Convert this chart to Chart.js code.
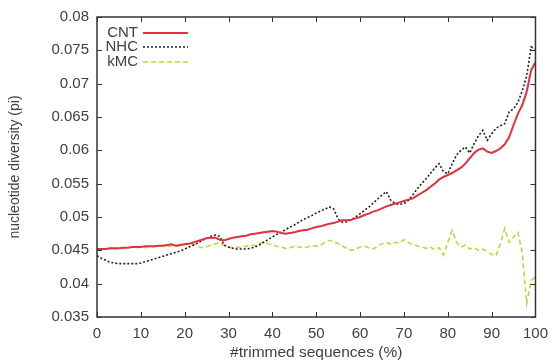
<!DOCTYPE html>
<html>
<head>
<meta charset="utf-8">
<script src="https://cdn.jsdelivr.net/npm/chart.js@4.4.1/dist/chart.umd.min.js"></script>
<style>
  html, body { margin: 0; padding: 0; background: #fff; }
  #wrap { width: 556px; height: 362px; }
</style>
</head>
<body>
<div id="wrap"><canvas id="diversityChart" width="556" height="362"></canvas></div>
<script>
// x samples (% of trimmed sequences), one per percent
const trimmedPct = Array.from({ length: 101 }, (_, i) => i);

// nucleotide diversity, x = 0..100
const cntValues = [
  0.0452, 0.0452, 0.0452, 0.0453, 0.0453, 0.0453, 0.0454, 0.0454, 0.0455, 0.0455,
  0.0455, 0.0456, 0.0456, 0.0456, 0.0457, 0.0457, 0.0458, 0.0459, 0.0457, 0.0458,
  0.0459, 0.0460, 0.0462, 0.0464, 0.0466, 0.0468, 0.0469, 0.0469, 0.0466, 0.0465,
  0.0467, 0.0469, 0.0470, 0.0471, 0.0472, 0.0474, 0.0475, 0.0476, 0.0477, 0.0478,
  0.0479, 0.0478, 0.0476, 0.0475, 0.0476, 0.0477, 0.0479, 0.0480, 0.0481, 0.0483,
  0.0485, 0.0486, 0.0488, 0.0490, 0.0491, 0.0493, 0.0495, 0.0495, 0.0496, 0.0498,
  0.0500, 0.0503, 0.0505, 0.0508, 0.0510, 0.0513, 0.0516, 0.0518, 0.0520, 0.0522,
  0.0524, 0.0526, 0.0528, 0.0532, 0.0536, 0.0540, 0.0545, 0.0550, 0.0556, 0.0560,
  0.0563, 0.0566, 0.0570, 0.0574, 0.0580, 0.0588, 0.0596, 0.0601, 0.0603, 0.0598,
  0.0596, 0.0599, 0.0603, 0.0609, 0.0620, 0.0638, 0.0655, 0.0668, 0.0688, 0.0720,
  0.0732
];
const nhcValues = [
  0.0442, 0.0438, 0.0435, 0.0432, 0.0431, 0.0430, 0.0430, 0.0430, 0.0430, 0.0430,
  0.0431, 0.0433, 0.0435, 0.0437, 0.0439, 0.0441, 0.0443, 0.0445, 0.0447, 0.0449,
  0.0452, 0.0455, 0.0458, 0.0461, 0.0465, 0.0468, 0.0471, 0.0473, 0.0471, 0.0458,
  0.0455, 0.0453, 0.0452, 0.0452, 0.0452, 0.0453, 0.0455, 0.0458, 0.0462, 0.0466,
  0.0470, 0.0474, 0.0477, 0.0481, 0.0485, 0.0488, 0.0492, 0.0496, 0.0499, 0.0502,
  0.0506, 0.0509, 0.0512, 0.0515, 0.0512, 0.0497, 0.0492, 0.0493, 0.0496, 0.0500,
  0.0505, 0.0510, 0.0515, 0.0521, 0.0527, 0.0533, 0.0538, 0.0525, 0.0520, 0.0519,
  0.0520, 0.0525, 0.0533, 0.0542, 0.0550, 0.0557, 0.0565, 0.0573, 0.0580, 0.0568,
  0.0565, 0.0580, 0.0593, 0.0600, 0.0605, 0.0596, 0.0610, 0.0622, 0.0630, 0.0615,
  0.0625, 0.0633, 0.0637, 0.0640, 0.0658, 0.0662, 0.0672, 0.0690, 0.0712, 0.0755,
  0.0752
];
const kmcValues = [
  0.0452, 0.0451, 0.0452, 0.0453, 0.0452, 0.0453, 0.0454, 0.0453, 0.0455, 0.0454,
  0.0455, 0.0454, 0.0456, 0.0455, 0.0457, 0.0456, 0.0455, 0.0457, 0.0456, 0.0458,
  0.0459, 0.0461, 0.0459, 0.0456, 0.0454, 0.0455, 0.0458, 0.0460, 0.0462, 0.0457,
  0.0455, 0.0454, 0.0455, 0.0454, 0.0456, 0.0458, 0.0457, 0.0460, 0.0463, 0.0460,
  0.0458, 0.0456, 0.0455, 0.0453, 0.0454, 0.0456, 0.0455, 0.0454, 0.0455, 0.0457,
  0.0456, 0.0458, 0.0462, 0.0465, 0.0463, 0.0460, 0.0456, 0.0453, 0.0450, 0.0452,
  0.0455, 0.0456, 0.0454, 0.0452, 0.0456, 0.0460, 0.0462, 0.0459, 0.0462, 0.0461,
  0.0466, 0.0462, 0.0458, 0.0457, 0.0455, 0.0453, 0.0455, 0.0451, 0.0454, 0.0443,
  0.0462, 0.0480, 0.0462, 0.0455, 0.0458, 0.0452, 0.0454, 0.0450, 0.0452, 0.0448,
  0.0444, 0.0442, 0.0460, 0.0483, 0.0462, 0.0470, 0.0477, 0.0445, 0.0370, 0.0405,
  0.0410
];

const seriesNames = ["CNT", "NHC", "kMC"];
const xTicks = [0, 10, 20, 30, 40, 50, 60, 70, 80, 90, 100];
const yTicks = [0.035, 0.04, 0.045, 0.05, 0.055, 0.06, 0.065, 0.07, 0.075, 0.08];

const FONT = "'Liberation Sans', Arial, sans-serif";
const TEXT = "#404040";

function toPoints(values) {
  return values.map((v, i) => ({ x: trimmedPct[i], y: v }));
}

// gnuplot-like frame: box all round, ticks pointing inwards on every side
const framePlugin = {
  id: "frame",
  afterDatasetsDraw(chart) {
    const { ctx, chartArea: a, scales } = chart;
    ctx.save();
    ctx.strokeStyle = "#333";
    ctx.lineWidth = 1.5;
    ctx.strokeRect(a.left, a.top, a.right - a.left, a.bottom - a.top);
    ctx.lineWidth = 1;
    const len = 5;
    xTicks.forEach((t) => {
      const px = Math.round(scales.x.getPixelForValue(t)) + 0.5;
      ctx.beginPath();
      ctx.moveTo(px, a.bottom); ctx.lineTo(px, a.bottom - len);
      ctx.moveTo(px, a.top); ctx.lineTo(px, a.top + len);
      ctx.stroke();
    });
    yTicks.forEach((t) => {
      const py = Math.round(scales.y.getPixelForValue(t)) + 0.5;
      ctx.beginPath();
      ctx.moveTo(a.left, py); ctx.lineTo(a.left + len, py);
      ctx.moveTo(a.right, py); ctx.lineTo(a.right - len, py);
      ctx.stroke();
    });
    ctx.restore();
  },
};

// key in the top-left corner: right-aligned name, then a line sample
const keyPlugin = {
  id: "key",
  afterDraw(chart) {
    const { ctx, chartArea: a } = chart;
    ctx.save();
    ctx.font = "15px " + FONT;
    ctx.textAlign = "right";
    ctx.textBaseline = "middle";
    const rows = [33, 47, 62];
    chart.data.datasets.forEach((ds, i) => {
      const y = rows[i];
      ctx.fillStyle = TEXT;
      ctx.fillText(ds.label, a.left + 41, y);
      ctx.strokeStyle = ds.borderColor;
      ctx.lineWidth = ds.borderWidth;
      ctx.setLineDash(ds.borderDash || []);
      ctx.beginPath();
      ctx.moveTo(a.left + 46, y);
      ctx.lineTo(a.left + 91, y);
      ctx.stroke();
    });
    ctx.restore();
  },
};

const canvas = document.getElementById("diversityChart");
new Chart(canvas.getContext("2d"), {
  type: "line",
  data: {
    datasets: [
      {
        label: seriesNames[0],
        data: toPoints(cntValues),
        borderColor: "#e3303c",
        borderWidth: 2,
        pointRadius: 0,
        tension: 0,
      },
      {
        label: seriesNames[1],
        data: toPoints(nhcValues),
        borderColor: "#222",
        borderWidth: 1.6,
        borderDash: [2, 2],
        pointRadius: 0,
        tension: 0,
      },
      {
        label: seriesNames[2],
        data: toPoints(kmcValues),
        borderColor: "#cdd03c",
        borderWidth: 1.6,
        borderDash: [5, 3],
        pointRadius: 0,
        tension: 0,
      },
    ],
  },
  options: {
    responsive: false,
    animation: false,
    layout: { padding: { top: 17, right: 17, left: 0, bottom: 0 } },
    plugins: { legend: { display: false }, tooltip: { enabled: false } },
    scales: {
      x: {
        type: "linear",
        min: 0,
        max: 100,
        afterBuildTicks: (s) => { s.ticks = xTicks.map((v) => ({ value: v })); },
        afterFit: (s) => { s.height = 45; },
        grid: { drawOnChartArea: false, drawTicks: false },
        border: { display: false },
        ticks: { color: TEXT, font: { size: 15, family: FONT }, padding: 8, maxRotation: 0 },
        title: {
          display: true,
          text: "#trimmed sequences (%)",
          color: TEXT,
          font: { size: 15.5, family: FONT },
          padding: { top: 1, bottom: 0 },
        },
      },
      y: {
        min: 0.035,
        max: 0.08,
        afterBuildTicks: (s) => { s.ticks = yTicks.map((v) => ({ value: v })); },
        afterFit: (s) => { s.width = 97; },
        grid: { drawOnChartArea: false, drawTicks: false },
        border: { display: false },
        ticks: {
          color: TEXT,
          font: { size: 15, family: FONT },
          padding: 8,
          callback: (v) => String(+v.toFixed(3)),
        },
        title: {
          display: true,
          text: "nucleotide diversity (pi)",
          color: TEXT,
          font: { size: 14, family: FONT },
          padding: { top: 7, bottom: 0 },
        },
      },
    },
  },
  plugins: [framePlugin, keyPlugin],
});
</script>
</body>
</html>
